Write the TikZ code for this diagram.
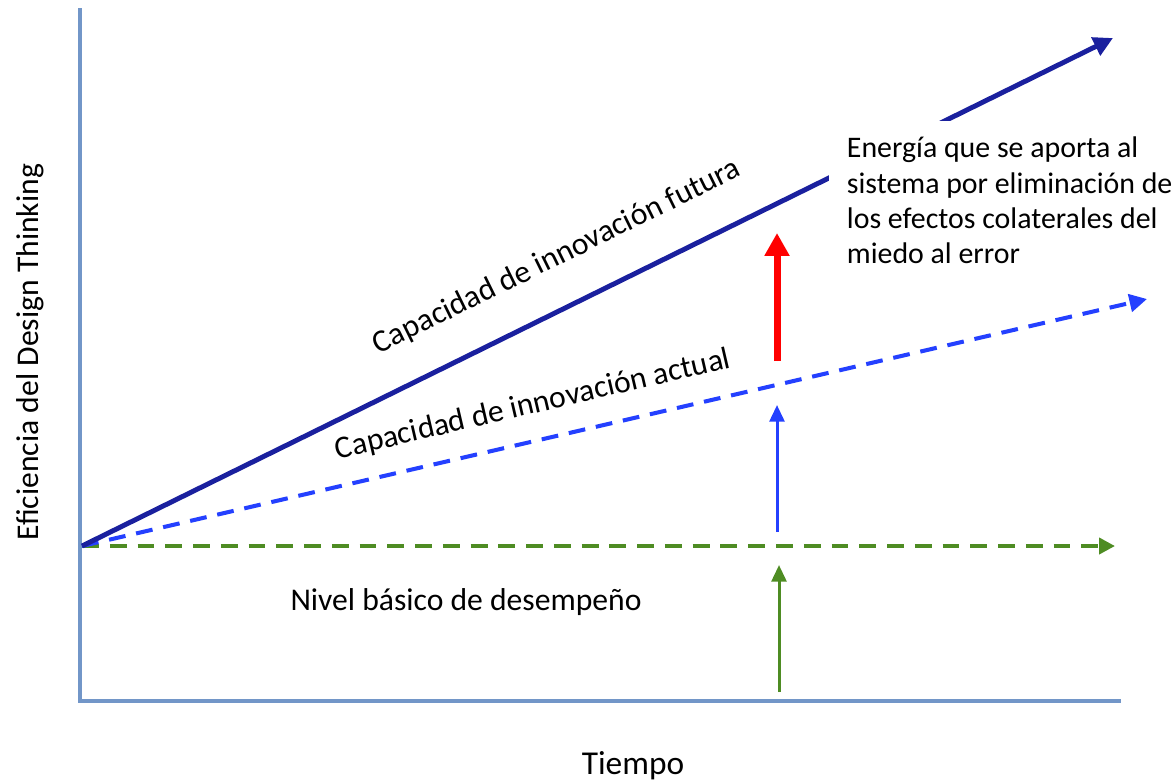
\documentclass[tikz,border=0pt]{standalone}
\usepackage{fontspec}
\setmainfont{Carlito}
\usetikzlibrary{arrows.meta}

\definecolor{axisblue}{RGB}{114,150,200}
\definecolor{navyline}{RGB}{26,32,158}
\definecolor{brightblue}{RGB}{36,64,255}
\definecolor{grassgreen}{RGB}{78,140,35}

\tikzset{
  axisline/.style={draw=axisblue, line width=2.3pt},
  label/.style={inner sep=0pt, font=\fontsize{18}{21}\selectfont},
  dashline/.style={line width=2.3pt, dash pattern=on 9.6pt off 6.2pt}
}

\begin{document}
\begin{tikzpicture}[x=0.02cm, y=-0.02cm]
  \useasboundingbox (0,0) rectangle (1175,782);

  % axes
  \coordinate (top) at (80,8);
  \coordinate (corner) at (80,701);
  \coordinate (right) at (1121,701);
  \draw[axisline] (top) -- (corner) -- (right);

  % lines from the starting point
  \coordinate (0) at (82,546);
  \coordinate (1) at (1113,38);
  \coordinate (2) at (1147,299);
  \coordinate (3) at (1115,546);

  \draw[dashline, draw=grassgreen, -{Triangle[length=9pt, width=9pt]}] (0) -- (3);
  \draw[dashline, draw=brightblue, -{Triangle[length=10pt, width=10pt]}] (0) -- (2);
  \draw[line width=2.8pt, draw=navyline, -{Triangle[length=11pt, width=11pt]}] (0) -- (1);

  % vertical arrows
  \coordinate (4) at (779,692);
  \coordinate (5) at (779,565);
  \coordinate (6) at (777,532);
  \coordinate (7) at (777,405);
  \coordinate (8) at (777,361);
  \coordinate (9) at (777,233);

  \draw[line width=1.7pt, draw=grassgreen, fill=grassgreen, -{Triangle[length=9.5pt, width=8.5pt]}] (4) -- (5);
  \draw[line width=1.7pt, draw=brightblue, fill=brightblue, -{Triangle[length=9.5pt, width=8.5pt]}] (6) -- (7);
  \draw[line width=4pt, draw=red, fill=red, -{Triangle[length=13pt, width=13.5pt]}] (8) -- (9);

  % texts
  \node[label, rotate=26.2] (futura) at (557,257) {Capacidad de innovación futura};
  \node[label, rotate=13.1] (actual) at (533,405) {Capacidad de innovación actual};
  \node[label] (nivel) at (466,602) {Nivel básico de desempeño};
  \node[label, fill=white, anchor=north west, align=left, inner xsep=10pt, inner ysep=9pt,
        font=\fontsize{17}{20}\selectfont] (energia) at (829,121)
    {Energía que se aporta al\\sistema por eliminación de\\los efectos colaterales del\\miedo al error};
  \node[label, font=\fontsize{19}{22}\selectfont] (tiempo) at (633,766) {Tiempo};
  \node[label, rotate=90] (eficiencia) at (30,352) {Eficiencia del Design Thinking};
\end{tikzpicture}
\end{document}
